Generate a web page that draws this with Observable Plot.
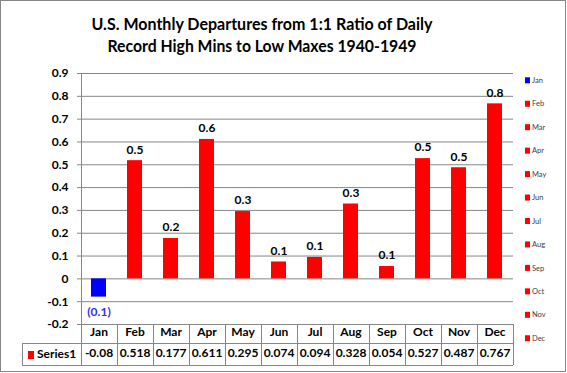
<!DOCTYPE html>
<html><head><meta charset="utf-8">
<script src="https://cdn.jsdelivr.net/npm/d3@7"></script>
<script src="https://cdn.jsdelivr.net/npm/@observablehq/plot@0.6"></script>
<style>body{margin:0;background:#fff} svg{display:block}</style>
</head><body><div id="chart"></div>
<script>
const months = ["Jan","Feb","Mar","Apr","May","Jun","Jul","Aug","Sep","Oct","Nov","Dec"];
const values = [-0.08, 0.518, 0.177, 0.611, 0.295, 0.074, 0.094, 0.328, 0.054, 0.527, 0.487, 0.767];
const seriesName = "Series1";
const titleLines = ["U.S. Monthly Departures from 1:1 Ratio of Daily", "Record High Mins to Low Maxes 1940-1949"];
const yTicks = [-0.2, -0.1, 0, 0.1, 0.2, 0.3, 0.4, 0.5, 0.6, 0.7, 0.8, 0.9];

const data = months.map((m, i) => ({month: m, value: values[i], color: values[i] < 0 ? "#0000FF" : "#FF0000"}));
const fmt = v => v < 0 ? `(${Math.abs(v).toFixed(1)})` : v.toFixed(1);
const font = "Lato, 'Open Sans', sans-serif";
const W = 567, H = 373, ML = 81, MR = 54, MT = 73, MB = 49;

const plot = Plot.plot({
  width: W, height: H, marginLeft: ML, marginRight: MR, marginTop: MT, marginBottom: MB,
  style: {fontFamily: font, fontSize: "12px", fontWeight: "bold", color: "#000", background: "#fff"},
  x: {domain: months, paddingInner: 0.58, paddingOuter: 0.29, axis: null},
  y: {domain: [-0.2, 0.9], axis: null},
  marks: [
    Plot.gridY(yTicks, {stroke: "#868686", strokeOpacity: 1}),
    Plot.axisY(yTicks, {tickSize: 4, tickPadding: 9, stroke: "#868686", fill: "#000", label: null,
      tickFormat: d => d === 0 ? "0" : d.toFixed(1), fontWeight: "bold", fontSize: 12}),
    Plot.barY(data, {x: "month", y: "value", fill: "color"}),
    Plot.text(data.filter(d => d.value >= 0), {x: "month", y: "value", text: d => fmt(d.value), dy: -11, fill: "#000"}),
    Plot.text(data.filter(d => d.value < 0), {x: "month", y: "value", text: d => fmt(d.value), dy: 15, fill: "#3030E8"}),
    Plot.text(data, {x: "month", text: "month", frameAnchor: "bottom", dy: 11, fill: "#000"}),
    Plot.text(data, {x: "month", text: d => String(d.value), frameAnchor: "bottom", dy: 32, fill: "#000"})
  ]
});
document.getElementById("chart").append(plot);

const svg = d3.select(plot);
const step = (W - ML - MR) / months.length;
const g = svg.append("g").attr("stroke", "#868686").attr("fill", "none").attr("shape-rendering", "crispEdges");
const yTop = H - MB, yMid = yTop + 19, yBot = yTop + 41;
g.append("line").attr("x1", ML + 0.5).attr("x2", ML + 0.5).attr("y1", MT).attr("y2", yBot);
for (let i = 1; i <= months.length; i++) {
  const x = ML + i * step;
  g.append("line").attr("x1", x).attr("x2", x).attr("y1", yTop).attr("y2", yBot);
}
g.append("line").attr("x1", 22).attr("x2", W - MR).attr("y1", yMid).attr("y2", yMid);
g.append("line").attr("x1", 22).attr("x2", W - MR).attr("y1", yBot).attr("y2", yBot);
g.append("line").attr("x1", 22.5).attr("x2", 22.5).attr("y1", yMid).attr("y2", yBot);
// outer border
svg.append("rect").attr("x", 0.5).attr("y", 0.5).attr("width", 565).attr("height", 371)
  .attr("fill", "none").attr("stroke", "#868686");

// series label in table
svg.append("rect").attr("x", 28).attr("y", 351).attr("width", 6).attr("height", 8).attr("fill", "#FF0000");
svg.append("text").attr("x", 37).attr("y", yMid + 11).attr("dy", "0.35em").attr("text-anchor", "start").text(seriesName)
  .attr("font-family", font).attr("font-size", 12).attr("font-weight", "bold").attr("fill", "#000");

// title
const tw = [341, 309];
titleLines.forEach((t, i) => {
  svg.append("text").attr("x", 262).attr("y", 30 + i * 22).attr("text-anchor", "middle")
    .attr("font-family", font).attr("font-size", 17.5).attr("font-weight", "bold").attr("fill", "#000")
    .attr("textLength", tw[i]).attr("lengthAdjust", "spacingAndGlyphs").text(t);
});

// right legend
const lg = svg.append("g");
data.forEach((d, i) => {
  const y = 80.3 + i * 23.45;
  lg.append("rect").attr("x", 525).attr("y", y - 3).attr("width", 5).attr("height", 6).attr("fill", d.color);
  lg.append("text").attr("x", 532).attr("y", y).attr("dy", "0.35em").attr("text-anchor", "start").text(d.month)
    .attr("font-family", font).attr("font-size", 7.5).attr("font-weight", "normal").attr("fill", "#404040");
});
</script>
</body></html>
